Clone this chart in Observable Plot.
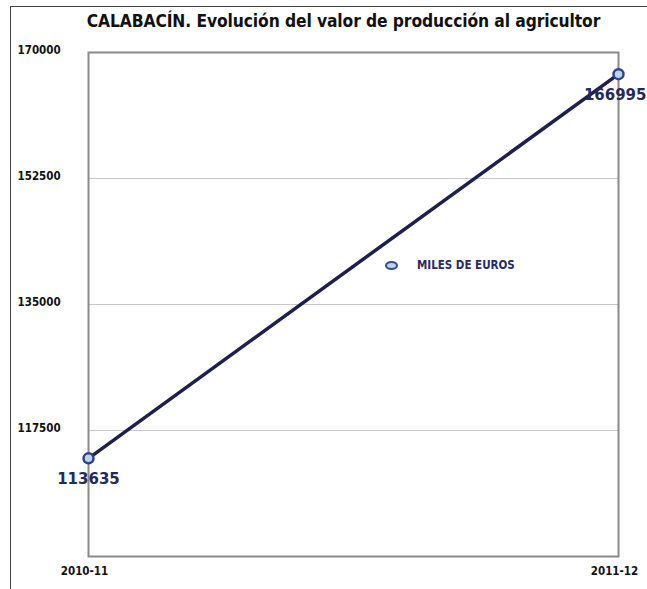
<!DOCTYPE html>
<html>
<head>
<meta charset="utf-8">
<script src="https://cdn.jsdelivr.net/npm/d3@7"></script>
<script src="https://cdn.jsdelivr.net/npm/@observablehq/plot@0.6"></script>
<style>
  html, body { margin: 0; padding: 0; background: #fff; }
  #wrap { position: relative; width: 647px; height: 589px; overflow: hidden; background: #fff; }
  #border { position: absolute; left: 10px; top: 6px; width: 700px; height: 700px; border-left: 1.5px solid #444; border-top: 1.5px solid #444; box-sizing: border-box; }
  #title { position: absolute; left: 0; width: 687px; top: 11px; text-align: center; font-family: "DejaVu Sans Condensed", "DejaVu Sans", sans-serif; font-weight: bold; font-size: 17.3px; color: #111; letter-spacing: -0.1px; }
  #legend { position: absolute; left: 385px; top: 258px; font-family: "DejaVu Sans Condensed", "DejaVu Sans", sans-serif; font-weight: bold; font-size: 11.5px; color: #262b66; display: flex; align-items: center; }
  #legend .mk { display: inline-block; width: 9px; height: 5px; border: 2.5px solid #3a4a8a; border-radius: 50%; background: #b8d4ee; margin-right: 19px; }
  #chart { position: absolute; left: 0; top: 0; }
</style>
</head>
<body>
<div id="wrap">
  <div id="border"></div>
  <div id="chart"></div>
  <div id="title">CALABACÍN. Evolución del valor de producción al agricultor</div>
  <div id="legend"><span class="mk"></span><span>MILES DE EUROS</span></div>
</div>
<script>
const campaigns = ["2010-11", "2011-12"];
const values = [113635, 166995];
const yTicks = [117500, 135000, 152500, 170000];
const seriesName = "MILES DE EUROS";

const data = campaigns.map((c, i) => ({campaign: c, value: values[i]}));
const font = '"DejaVu Sans Condensed", "DejaVu Sans", sans-serif';
const labelStyle = {x: "campaign", y: "value", text: d => String(d.value), dy: 21, fontSize: 15, fontWeight: "bold", fill: "#252a5e", fontFamily: "DejaVu Sans, sans-serif"};

const chart = Plot.plot({
  width: 647,
  height: 589,
  marginLeft: 88,
  marginRight: 29,
  marginTop: 52,
  marginBottom: 33,
  style: {fontFamily: font, background: "transparent", overflow: "visible"},
  x: {type: "point", domain: campaigns, padding: 0, label: null},
  y: {domain: [100000, 170000], label: null},
  marks: [
    Plot.gridY(yTicks, {stroke: "#c8c8c8", strokeOpacity: 1, strokeWidth: 1}),
    Plot.frame({stroke: "#8a8a8a", strokeWidth: 2}),
    Plot.axisY({ticks: yTicks, label: null, tickSize: 0, tickPadding: 0, textAnchor: "start", dx: -71, dy: -2, fontSize: 11.5, fontWeight: "bold", fill: "#111", tickFormat: d => String(d)}),
    Plot.axisX({label: null, tickSize: 0, tickPadding: 10, fontSize: 11.5, fontWeight: "bold", fill: "#111", dx: -4}),
    Plot.line(data, {x: "campaign", y: "value", stroke: "#1e1f4f", strokeWidth: 3.5}),
    Plot.dot(data, {x: "campaign", y: "value", r: 5, fill: "#b8d4ee", stroke: "#2f4387", strokeWidth: 2.5}),
    Plot.text(data.slice(0, 1), {...labelStyle, textAnchor: "middle"}),
    Plot.text(data.slice(1), {...labelStyle, textAnchor: "end", dx: 28})
  ]
});
document.getElementById("chart").appendChild(chart);
</script>
</body>
</html>
